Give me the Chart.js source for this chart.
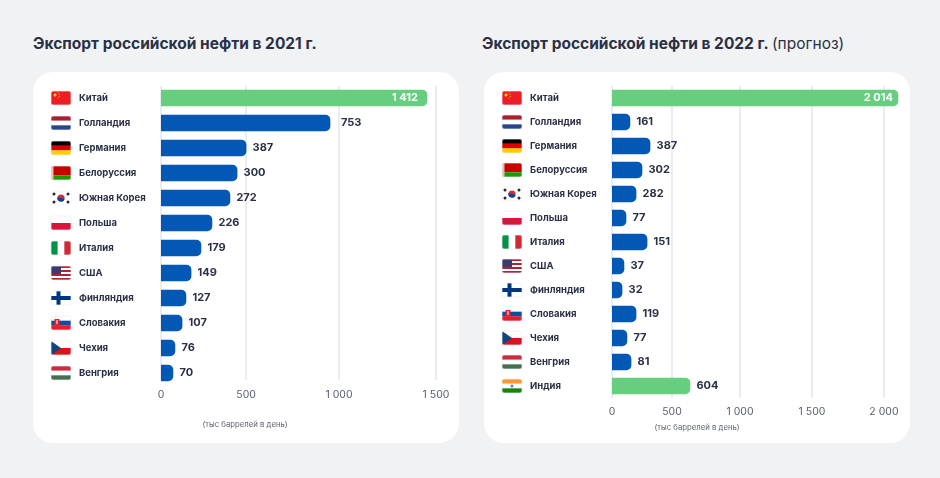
<!DOCTYPE html>
<html lang="ru">
<head>
<meta charset="utf-8">
<title>Экспорт российской нефти</title>
<script src="https://cdn.jsdelivr.net/npm/chart.js@4"></script>
<style>
  html, body { margin: 0; padding: 0; background: #f1f2f4; width: 940px; height: 478px; overflow: hidden; }
  body { font-family: Inter, "Noto Sans", sans-serif; color: #2a3045; position: relative; }
  .title { position: absolute; top: 34px; font-size: 15.5px; font-weight: 700; line-height: 20px; white-space: nowrap; }
  .title span { font-weight: 400; }
  .card { position: absolute; top: 72px; width: 426px; height: 371px; background: #fff; border-radius: 20px; }
  .card canvas { position: absolute; left: 0; top: 0; }
  .unit { position: absolute; font-size: 7.75px; line-height: 10px; color: #5f6473; transform: translateX(-50%); white-space: nowrap; }
</style>
</head>
<body>
<div class="title" style="left:33px">Экспорт российской нефти в 2021 г.</div>
<div class="title" style="left:482px">Экспорт российской нефти в 2022 г. <span>(прогноз)</span></div>
<div class="card" style="left:33px"><canvas id="c2021" width="426" height="371"></canvas>
  <div class="unit" style="left:212px;top:347px">(тыс баррелей в день)</div></div>
<div class="card" style="left:484px"><canvas id="c2022" width="426" height="371"></canvas>
  <div class="unit" style="left:213px;top:350px">(тыс баррелей в день)</div></div>
<script>
const countries2021 = ['Китай', 'Голландия', 'Германия', 'Белоруссия', 'Южная Корея', 'Польша', 'Италия', 'США', 'Финляндия', 'Словакия', 'Чехия', 'Венгрия'];
const labels2021 = ['1 412', '753', '387', '300', '272', '226', '179', '149', '127', '107', '76', '70'];
// the bars in the original do not follow their printed numbers, so lengths are read off separately
const bars2021 = [1451, 922, 464, 415, 376, 278, 218, 164, 136, 115, 76, 65];
const ticksAt2021 = [0, 464, 971, 1500];
const tickLabels2021 = ['0', '500', '1 000', '1 500'];

const countries2022 = ['Китай', 'Голландия', 'Германия', 'Белоруссия', 'Южная Корея', 'Польша', 'Италия', 'США', 'Финляндия', 'Словакия', 'Чехия', 'Венгрия', 'Индия'];
const labels2022 = ['2 014', '161', '387', '302', '282', '77', '151', '37', '32', '119', '77', '81', '604'];
const bars2022 = [2105, 132, 280, 221, 177, 103, 258, 88, 74, 177, 110, 140, 574];
const ticksAt2022 = [0, 442, 942, 1472, 2002];
const tickLabels2022 = ['0', '500', '1 000', '1 500', '2 000'];

const GREEN = '#66ce7e', BLUE = '#0358b6', INK = '#2a3045';

const hStripes = (ctx, x, y, w, h, cols) => cols.forEach((c, i) => {
    ctx.fillStyle = c;
    ctx.fillRect(x, y + h * i / cols.length, w, h / cols.length + 0.2);
});
const vStripes = (ctx, x, y, w, h, cols) => cols.forEach((c, i) => {
    ctx.fillStyle = c;
    ctx.fillRect(x + w * i / cols.length, y, w / cols.length + 0.2, h);
});
const dot = (ctx, x, y, r, c) => {
    ctx.fillStyle = c;
    ctx.beginPath();
    ctx.arc(x, y, r, 0, Math.PI * 2);
    ctx.fill();
};

const flags = {
    'Китай': (c, x, y, w, h) => {
        c.fillStyle = '#ee1c25'; c.fillRect(x, y, w, h);
        dot(c, x + 4, y + 4, 1.5, '#ffde00');
        [[7, 1.8], [8.3, 3.4], [8.3, 5.4], [7, 7]].forEach(p => dot(c, x + p[0], y + p[1], 0.5, '#ffde00'));
    },
    'Голландия': (c, x, y, w, h) => hStripes(c, x, y, w, h, ['#a8202d', '#ffffff', '#27478c']),
    'Германия': (c, x, y, w, h) => hStripes(c, x, y, w, h, ['#000000', '#dd0000', '#ffce00']),
    'Белоруссия': (c, x, y, w, h) => {
        c.fillStyle = '#c80000'; c.fillRect(x, y, w, h * 2 / 3);
        c.fillStyle = '#1a9a00'; c.fillRect(x, y + h * 2 / 3, w, h / 3);
        c.fillStyle = '#f2b8b0'; c.fillRect(x, y, 2.5, h);
    },
    'Южная Корея': (c, x, y, w, h) => {
        c.fillStyle = '#ffffff'; c.fillRect(x, y, w, h);
        const cx = x + w / 2, cy = y + h / 2;
        dot(c, cx, cy, 3.6, '#cd2e3a');
        c.fillStyle = '#0047a0';
        c.beginPath(); c.arc(cx, cy, 3.6, 0.2, Math.PI + 0.2); c.fill();
        [[-7, -4], [7, -4], [-7, 4], [7, 4]].forEach(p => dot(c, cx + p[0], cy + p[1], 1.5, '#2a2a2a'));
    },
    'Польша': (c, x, y, w, h) => hStripes(c, x, y, w, h, ['#ffffff', '#dc143c']),
    'Италия': (c, x, y, w, h) => vStripes(c, x, y, w, h, ['#009246', '#ffffff', '#ce2b37']),
    'США': (c, x, y, w, h) => {
        hStripes(c, x, y, w, h, ['#b22234', '#fff', '#b22234', '#fff', '#b22234', '#fff', '#b22234']);
        c.fillStyle = '#3c3b6e'; c.fillRect(x, y, 10, 8);
    },
    'Финляндия': (c, x, y, w, h) => {
        c.fillStyle = '#ffffff'; c.fillRect(x, y, w, h);
        c.fillStyle = '#003580'; c.fillRect(x, y + 5, w, 4); c.fillRect(x + 5.5, y, 4, h);
    },
    'Словакия': (c, x, y, w, h) => {
        hStripes(c, x, y, w, h, ['#ffffff', '#0b4ea2', '#ee1c25']);
        c.fillStyle = '#ee1c25'; c.fillRect(x + 3.5, y + 3, 5, 6.5);
        c.fillStyle = '#ffffff'; c.fillRect(x + 5.5, y + 4, 1, 4);
    },
    'Чехия': (c, x, y, w, h) => {
        hStripes(c, x, y, w, h, ['#ffffff', '#d7141a']);
        c.fillStyle = '#11457e';
        c.beginPath(); c.moveTo(x, y); c.lineTo(x + 10, y + h / 2); c.lineTo(x, y + h); c.fill();
    },
    'Венгрия': (c, x, y, w, h) => hStripes(c, x, y, w, h, ['#cd2a3e', '#ffffff', '#436f4d']),
    'Индия': (c, x, y, w, h) => {
        hStripes(c, x, y, w, h, ['#ff9933', '#ffffff', '#138808']);
        dot(c, x + w / 2, y + h / 2, 1.6, '#7a7ac0');
    }
};

function makeChart(id, countries, bars, labels, ticksAt, tickLabels, opts) {
    const rowPlugin = {
        id: 'rows',
        beforeDatasetsDraw(chart) {
            const { ctx, scales } = chart;
            ctx.save();
            ctx.strokeStyle = '#e9ecf3';
            ctx.lineWidth = 2;
            scales.x.ticks.forEach(t => {
                const px = scales.x.getPixelForValue(t.value);
                ctx.beginPath();
                ctx.moveTo(px, 14);
                ctx.lineTo(px, opts.gridBottom);
                ctx.stroke();
            });
            ctx.restore();
        },
        afterDatasetsDraw(chart) {
            const { ctx, scales } = chart;
            const meta = chart.getDatasetMeta(0);
            ctx.save();
            ctx.textBaseline = 'middle';
            ctx.font = '700 11px Inter';
            meta.data.forEach((bar, i) => {
                if (i === 0) {
                    ctx.fillStyle = '#ffffff';
                    ctx.textAlign = 'right';
                    ctx.fillText(labels[i], bar.x - opts.insideGap, bar.y);
                } else {
                    ctx.fillStyle = INK;
                    ctx.textAlign = 'left';
                    ctx.fillText(labels[i], bar.x + (opts.gaps[i] || 6.5), bar.y);
                }
            });
            // flags sit to the left of the country names
            countries.forEach((name, i) => {
                const y = scales.y.getPixelForValue(i) - 7;
                ctx.save();
                ctx.beginPath();
                ctx.roundRect(18, y, 20, 14, 2);
                ctx.clip();
                flags[name](ctx, 18, y, 20, 14);
                ctx.restore();
                ctx.strokeStyle = '#eceef2';
                ctx.lineWidth = 0.7;
                ctx.beginPath();
                ctx.roundRect(18, y, 20, 14, 2);
                ctx.stroke();
            });
            ctx.restore();
        }
    };

    return new Chart(document.getElementById(id), {
        type: 'bar',
        data: {
            labels: countries,
            datasets: [{
                data: bars,
                backgroundColor: countries.map((c, i) => opts.green.includes(i) ? GREEN : BLUE),
                barThickness: 16,
                borderSkipped: false,
                borderRadius: { topLeft: 0, bottomLeft: 0, topRight: 5, bottomRight: 5 }
            }]
        },
        options: {
            indexAxis: 'y',
            responsive: false,
            animation: false,
            layout: { padding: { left: 46, right: opts.right, top: opts.top, bottom: 0 } },
            plugins: { legend: { display: false }, tooltip: { enabled: false } },
            scales: {
                x: {
                    min: 0,
                    max: opts.max,
                    afterBuildTicks: s => { s.ticks = ticksAt.map(v => ({ value: v })); },
                    afterFit: s => { s.height = opts.axisHeight; },
                    grid: { display: false, drawTicks: false },
                    border: { display: false },
                    ticks: {
                        padding: opts.tickPad,
                        maxRotation: 0,
                        autoSkip: false,
                        color: '#5a6072',
                        font: { family: 'Inter', size: 10.5, weight: 400 },
                        callback: (v, i) => tickLabels[i]
                    }
                },
                y: {
                    afterFit: s => { s.width = 82; },
                    grid: { display: false },
                    border: { display: false },
                    ticks: {
                        crossAlign: 'far',
                        padding: 0,
                        autoSkip: false,
                        color: INK,
                        font: { family: 'Inter', size: 9.5, weight: 700 }
                    }
                }
            }
        },
        plugins: [rowPlugin]
    });
}

makeChart('c2021', countries2021, bars2021, labels2021, ticksAt2021, tickLabels2021, {
    max: 1500, right: 23, top: 13.5, axisHeight: 57.5, tickPad: 3, gridBottom: 308,
    green: [0], gaps: { 1: 11 }, insideGap: 9
});
makeChart('c2022', countries2022, bars2022, labels2022, ticksAt2022, tickLabels2022, {
    max: 2120, right: 10, top: 14, axisHeight: 45, tickPad: 8, gridBottom: 326,
    green: [0, 12], gaps: {}, insideGap: 5
});
</script>
</body>
</html>
